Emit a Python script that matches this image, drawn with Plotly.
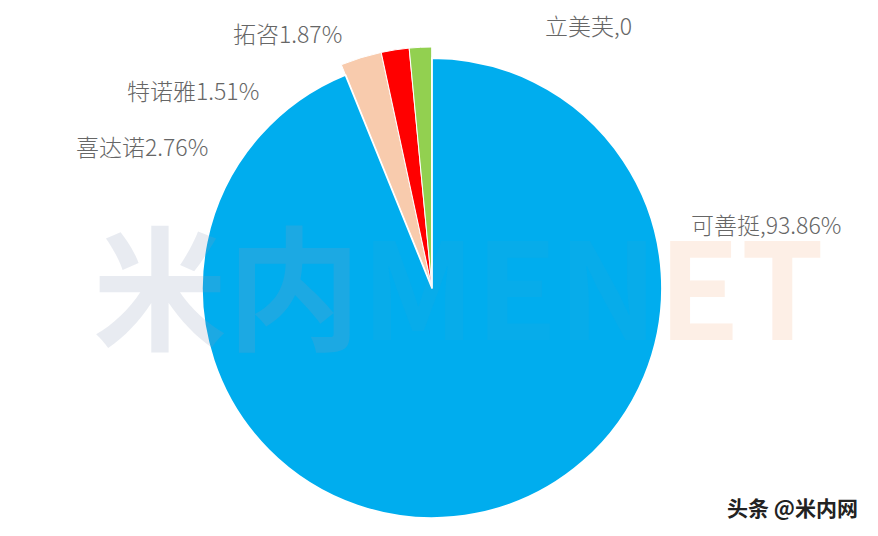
import plotly.graph_objects as go

# ---- data ----
names = ["可善挺", "喜达诺", "拓咨", "特诺雅", "立美芙"]
values = [93.86, 2.76, 1.87, 1.51, 0]
label_texts = ["可善挺,93.86%", "喜达诺2.76%", "拓咨1.87%", "特诺雅1.51%", "立美芙,0"]
colors = ["#00ADEE", "#F8CBAD", "#FF0000", "#92D050", "#5B9BD5"]

OFF = 8  # page body margin
W, H = 878 - OFF, 536 - OFF
CX, CY = 432 - OFF, 288 - OFF
R_MAIN, R_SMALL = 230, 241

def px2paper(px, py):
    return (px - OFF) / W, 1 - (py - OFF) / H

def dom(r):
    return dict(x=[(CX - r) / W, (CX + r) / W], y=[1 - (CY + r) / H, 1 - (CY - r) / H])

TRANSP = "rgba(0,0,0,0)"
outer_colors = [TRANSP] + colors[1:]
outer_lw = [0] + [1] * (len(values) - 1)
inner_colors = [colors[0]] + [TRANSP] * (len(values) - 1)
inner_lw = [1.8] + [0] * (len(values) - 1)

fig = go.Figure()
fig.add_trace(go.Pie(
    labels=names, values=values, sort=False, direction="clockwise", rotation=0,
    domain=dom(R_SMALL), textinfo="none", hoverinfo="skip",
    marker=dict(colors=outer_colors, line=dict(color="white", width=outer_lw)),
    showlegend=False,
))
fig.add_trace(go.Pie(
    labels=names, values=values, sort=False, direction="clockwise", rotation=0,
    domain=dom(R_MAIN), textinfo="none", hoverinfo="skip",
    marker=dict(colors=inner_colors, line=dict(color="white", width=inner_lw)),
    showlegend=False,
))

# watermark (drawn first so labels sit above it)
wm = ("<span style='color:rgba(140,155,185,0.2)'>米内</span>"
      "<span style='color:rgba(140,155,185,0.05)'>MEN</span>"
      "<span style='color:rgba(245,180,140,0.22)'>ET</span>")
wx, wy = px2paper(458, 282)
fig.add_annotation(text="<b>" + wm + "</b>", x=wx, y=wy, xref="paper", yref="paper",
                   showarrow=False, xanchor="center", yanchor="middle",
                   font=dict(family="Noto Sans CJK SC, sans-serif", size=134))

LABEL_FONT = dict(family="Noto Sans CJK SC, sans-serif", size=23, color="#666666", weight=300)
# label placement (pixel centres)
label_pos = [(766, 224), (142, 146), (287, 33), (193, 90), (588, 25)]
for txt, (px, py) in zip(label_texts, label_pos):
    ax, ay = px2paper(px, py)
    fig.add_annotation(text=txt, x=ax, y=ay, xref="paper", yref="paper",
                       showarrow=False, xanchor="center", yanchor="middle",
                       borderpad=0, font=LABEL_FONT)

sx, sy = px2paper(792, 507)
fig.add_annotation(text="<b>头条 @米内网</b>", x=sx, y=sy, xref="paper", yref="paper",
                   showarrow=False, xanchor="center", yanchor="middle",
                   font=dict(family="Noto Sans CJK SC, sans-serif", size=21, color="#222222"))

fig.update_layout(width=W, height=H, margin=dict(l=0, r=0, t=0, b=0),
                  paper_bgcolor="white", plot_bgcolor="white")
fig.write_html("out.html")
